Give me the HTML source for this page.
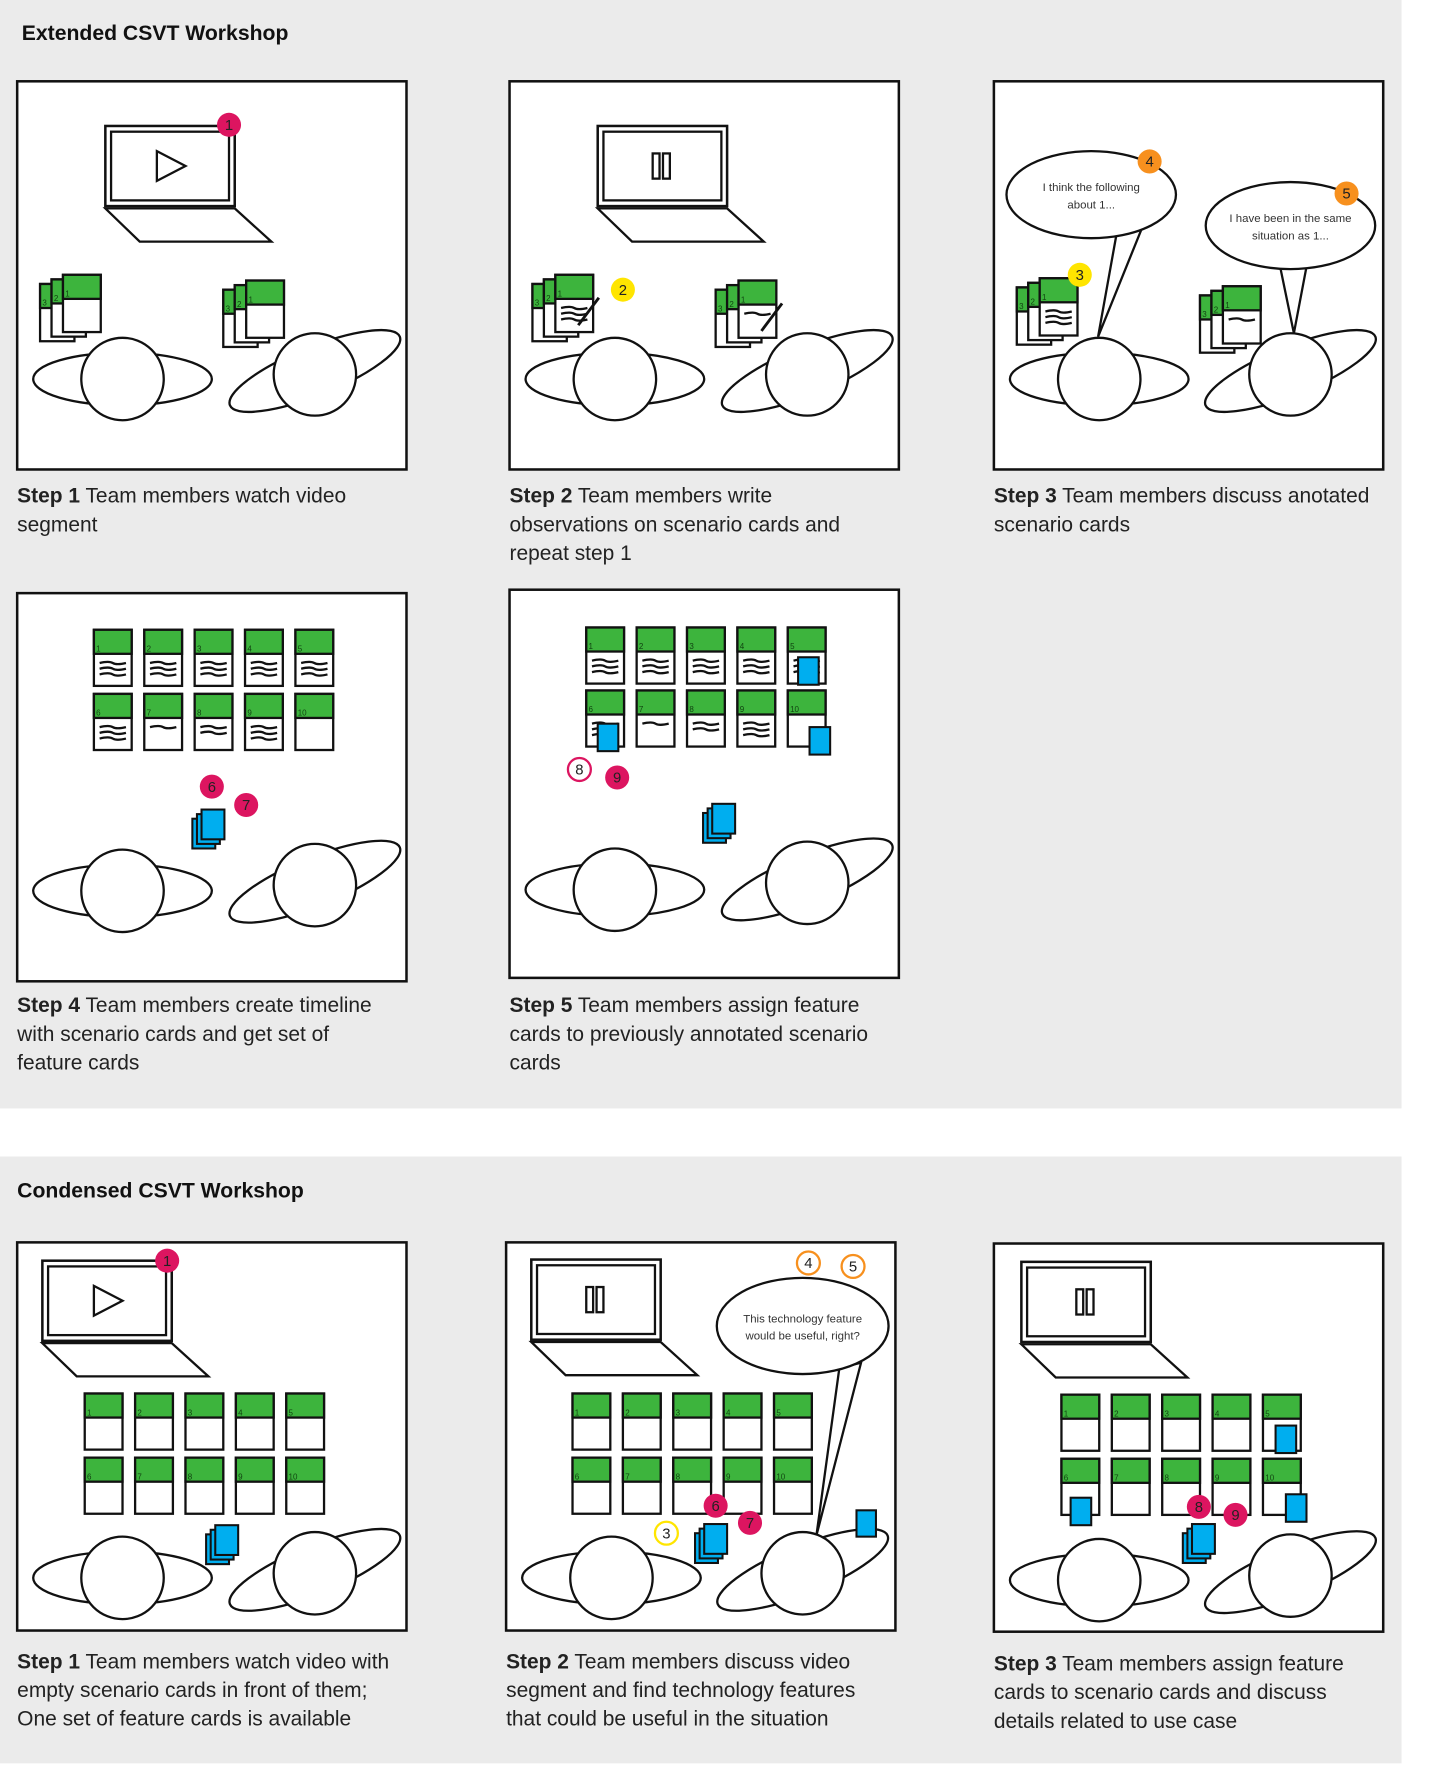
<!DOCTYPE html>
<html><head><meta charset="utf-8"><style>
html,body{margin:0;padding:0;background:#fff;}
svg{display:block;}
text{font-family:"Liberation Sans",sans-serif;}
.cap{font-size:18.3px;fill:#222;}
.cap tspan.b{font-weight:bold;}
.ttl{font-size:18.5px;font-weight:bold;fill:#111;}
</style></head><body>
<svg id="s" width="1440" height="1792" viewBox="0 0 1257.6 1565" xmlns="http://www.w3.org/2000/svg">
<rect x="0" y="0" width="1224" height="968" fill="#ebebeb"/>
<rect x="0" y="1010" width="1224" height="530" fill="#ebebeb"/>
<text class="ttl" x="19" y="35">Extended CSVT Workshop</text>
<text class="ttl" x="15" y="1046">Condensed CSVT Workshop</text>
<g id="draw"></g>
<text class="cap" x="15" y="439"><tspan class="b">Step 1</tspan> Team members watch video<tspan x="15" dy="25">segment</tspan></text>
<text class="cap" x="445" y="439"><tspan class="b">Step 2</tspan> Team members write<tspan x="445" dy="25">observations on scenario cards and</tspan><tspan x="445" dy="25">repeat step 1</tspan></text>
<text class="cap" x="868" y="439"><tspan class="b">Step 3</tspan> Team members discuss anotated<tspan x="868" dy="25">scenario cards</tspan></text>
<text class="cap" x="15" y="884"><tspan class="b">Step 4</tspan> Team members create timeline<tspan x="15" dy="25">with scenario cards and get set of</tspan><tspan x="15" dy="25">feature cards</tspan></text>
<text class="cap" x="445" y="884"><tspan class="b">Step 5</tspan> Team members assign feature<tspan x="445" dy="25">cards to previously annotated scenario</tspan><tspan x="445" dy="25">cards</tspan></text>
<text class="cap" x="15" y="1457"><tspan class="b">Step 1</tspan> Team members watch video with<tspan x="15" dy="25">empty scenario cards in front of them;</tspan><tspan x="15" dy="25">One set of feature cards is available</tspan></text>
<text class="cap" x="442" y="1457"><tspan class="b">Step 2</tspan> Team members discuss video<tspan x="442" dy="25">segment and find technology features</tspan><tspan x="442" dy="25">that could be useful in the situation</tspan></text>
<text class="cap" x="868" y="1459"><tspan class="b">Step 3</tspan> Team members assign feature<tspan x="868" dy="25">cards to scenario cards and discuss</tspan><tspan x="868" dy="25">details related to use case</tspan></text>
</svg>
<script>
var G='#3db43d',B='#00aeef',R='#dc1560',O='#f7901e',Y='#ffe500';
var o='';
function panel(x,y){o+='<rect x="'+x+'" y="'+y+'" width="340" height="339" fill="#fff" stroke="#111" stroke-width="2.2"/>';}
function person(hx,hy,tilt){
 if(tilt) o+='<ellipse cx="'+hx+'" cy="'+(hy-3)+'" rx="80" ry="21" transform="rotate(-22 '+hx+' '+(hy-3)+')" fill="#fff" stroke="#111" stroke-width="2"/>';
 else o+='<ellipse cx="'+hx+'" cy="'+hy+'" rx="78" ry="23" fill="#fff" stroke="#111" stroke-width="2"/>';
 o+='<circle cx="'+hx+'" cy="'+hy+'" r="36" fill="#fff" stroke="#111" stroke-width="2"/>';
}
function laptop(x,y,icon){
 o+='<rect x="'+x+'" y="'+y+'" width="113" height="70" fill="#fff" stroke="#111" stroke-width="2.2"/>';
 o+='<rect x="'+(x+5)+'" y="'+(y+5)+'" width="103" height="60" fill="#fff" stroke="#111" stroke-width="2"/>';
 o+='<polygon points="'+x+','+(y+72)+' '+(x+113)+','+(y+72)+' '+(x+145)+','+(y+101)+' '+(x+30)+','+(y+101)+'" fill="#fff" stroke="#111" stroke-width="2"/>';
 var cx=x+56,cy=y+35;
 if(icon=='play') o+='<polygon points="'+(cx-11)+','+(cy-13)+' '+(cx+14)+','+cy+' '+(cx-11)+','+(cy+13)+'" fill="#fff" stroke="#111" stroke-width="2"/>';
 else o+='<rect x="'+(cx-8)+'" y="'+(cy-11)+'" width="6" height="22" fill="#fff" stroke="#111" stroke-width="2"/><rect x="'+(cx+1)+'" y="'+(cy-11)+'" width="6" height="22" fill="#fff" stroke="#111" stroke-width="2"/>';
}
function badge(cx,cy,n,col,filled,tc){
 if(filled) o+='<circle cx="'+cx+'" cy="'+cy+'" r="10.5" fill="'+col+'"/>';
 else o+='<circle cx="'+cx+'" cy="'+cy+'" r="10" fill="#fff" stroke="'+col+'" stroke-width="2"/>';
 o+='<text x="'+cx+'" y="'+(cy+4.5)+'" text-anchor="middle" font-size="13" fill="'+(tc||'#222')+'">'+n+'</text>';
}
function scrib(x,y,w,k){
 for(var i=0;i<k;i++){o+='<path d="M'+(x+5)+','+(y+4+i*5)+' q'+(w/4)+',-2 '+(w/2-5)+',0 t'+(w/2-5)+',0" fill="none" stroke="#111" stroke-width="2"/>';}
}
function card(x,y,n,w,h,sc){
 w=w||33;h=h||50;var gh=Math.round(h*0.42);
 o+='<rect x="'+x+'" y="'+y+'" width="'+w+'" height="'+h+'" fill="#fff" stroke="#111" stroke-width="2"/>';
 o+='<rect x="'+x+'" y="'+y+'" width="'+w+'" height="'+gh+'" fill="'+G+'" stroke="#111" stroke-width="2"/>';
 o+='<text x="'+(x+2)+'" y="'+(y+gh-2)+'" font-size="7" fill="#114411">'+n+'</text>';
 if(sc) scrib(x,y+gh+4,w,sc);
}
function grid(x,y,sc,dy){
 dy=dy||56;
 for(var r=0;r<2;r++)for(var c=0;c<5;c++){var n=r*5+c+1;card(x+c*44,y+r*dy,n,33,49,sc?sc[n-1]:0);}
}
function stack(x,y,sc,pen){
 card(x,y+8,3,30,50);card(x+10,y+4,2,30,50);card(x+20,y,1,33,50,sc);
 if(pen) o+='<line x1="'+(x+40)+'" y1="'+(y+44)+'" x2="'+(x+58)+'" y2="'+(y+20)+'" stroke="#111" stroke-width="2.5"/>';
}
function blue(x,y,w,h){o+='<rect x="'+x+'" y="'+y+'" width="'+(w||18)+'" height="'+(h||24)+'" fill="'+B+'" stroke="#111" stroke-width="1.8"/>';}
function fstack(x,y){blue(x,y+8,20,26);blue(x+4,y+4,20,26);blue(x+8,y,20,26);}
function bubble(cx,cy,rx,ry,t1,t2,tip,a,b){
 o+='<polygon points="'+tip[0]+','+tip[1]+' '+a[0]+','+a[1]+' '+b[0]+','+b[1]+'" fill="#fff" stroke="#111" stroke-width="2"/>';
 o+='<ellipse cx="'+cx+'" cy="'+cy+'" rx="'+rx+'" ry="'+ry+'" fill="#fff" stroke="#111" stroke-width="2"/>';
 o+='<text x="'+cx+'" y="'+(cy-3)+'" text-anchor="middle" font-size="10" fill="#333">'+t1+'</text>';
 o+='<text x="'+cx+'" y="'+(cy+12)+'" text-anchor="middle" font-size="10" fill="#333">'+t2+'</text>';
}
// P1
panel(15,71);laptop(92,110,'play');badge(200,109,1,R,1,'#222');
stack(35,240,0,0);stack(195,245,0,0);person(107,331);person(275,327,1);
// P2
panel(445,71);laptop(522,110,'pause');
stack(465,240,3,1);stack(625,245,1,1);badge(544,253,2,Y,1);person(537,331);person(705,327,1);
// P3
panel(868,71);
bubble(953,170,74,38,'I think the following','about 1...',[959,294],[975,205],[997,200]);
bubble(1127,197,74,38,'I have been in the same','situation as 1...',[1130,291],[1118,233],[1141,233]);
badge(1004,141,4,O,1);badge(1176,169,5,O,1);
stack(888,243,3,0);badge(943,240,3,Y,1);stack(1048,250,1,0);
person(960,331);person(1127,327,1);
// P4
panel(15,518);
grid(82,550,[3,3,3,3,3,3,1,2,3,0],56);
badge(185,687,6,R,1);badge(215,703,7,R,1);fstack(168,707);
person(107,778);person(275,773,1);
// P5
panel(445,515);
grid(512,548,[3,3,3,3,3,3,1,2,3,0],55);
blue(697,574);blue(522,632);blue(707,635);
badge(506,672,8,R,0);badge(539,679,9,R,1);fstack(614,702);
person(537,777);person(705,771,1);
// Q1
panel(15,1085);laptop(37,1101,'play');badge(146,1101,1,R,1);
grid(74,1217,0,56);fstack(180,1332);
person(107,1378);person(275,1374,1);
// Q2
panel(442,1085);laptop(464,1100,'pause');
grid(500,1217,0,56);
person(534,1378);
bubble(701,1158,75,42,'This technology feature','would be useful, right?',[713,1341],[733,1195],[752,1190]);
person(701,1374,1);
badge(706,1103,4,O,0);badge(745,1106,5,O,0);badge(582,1339,3,Y,0);
fstack(607,1331);badge(625,1315,6,R,1);badge(655,1330,7,R,1);blue(748,1319,17,23);
// Q3
panel(868,1086);laptop(892,1102,'pause');
grid(927,1218,0,56);
blue(1114,1245);blue(935,1308);blue(1123,1305);
fstack(1033,1331);badge(1047,1316,8,R,1);badge(1079,1323,9,R,1);
person(960,1380);person(1127,1376,1);
document.getElementById('draw').innerHTML=o;
</script>
</body></html>
